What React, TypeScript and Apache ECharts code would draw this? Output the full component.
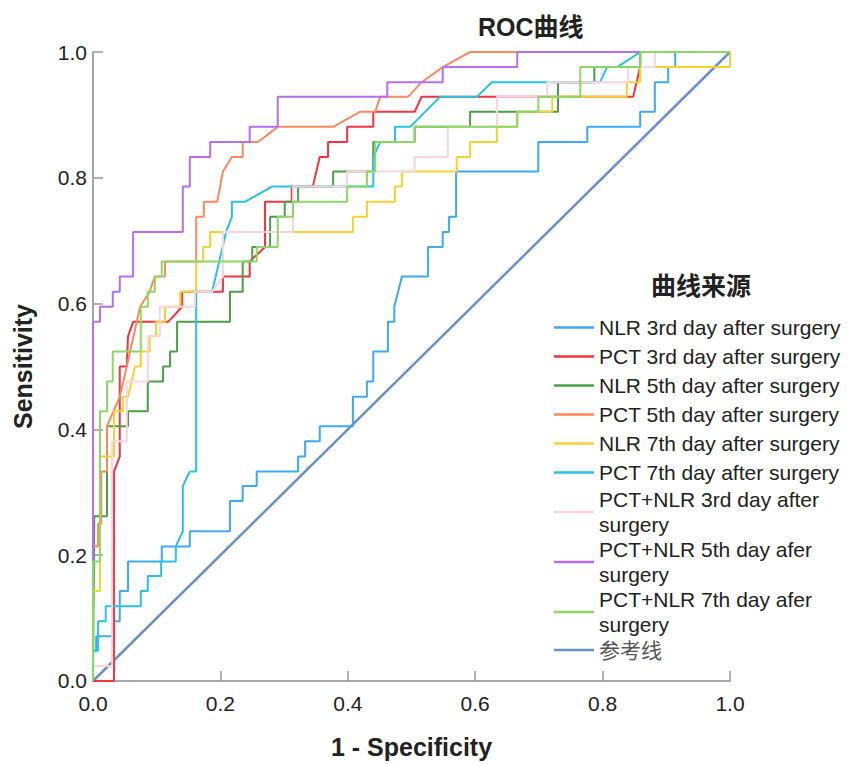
import { useEffect, useRef } from "react";
import * as echarts from "echarts";

const FONT = "'Liberation Sans', Arial, 'Noto Sans CJK SC', sans-serif";

const seriesNames = [
  "NLR 3rd day after surgery",
  "PCT 3rd day after surgery",
  "NLR 5th day after surgery",
  "PCT 5th day after surgery",
  "NLR 7th day after surgery",
  "PCT 7th day after surgery",
  "PCT+NLR 3rd day after surgery",
  "PCT+NLR 5th day afer surgery",
  "PCT+NLR 7th day afer surgery",
  "参考线",
];

const seriesColors = [
  "#3fa9f5",
  "#f2353f",
  "#4c9f48",
  "#fa8a5f",
  "#f5d234",
  "#28c2e2",
  "#fcd3de",
  "#b46ff3",
  "#8cd765",
  "#6b8fca",
];

const nlr3 = [
  [0, 0], [0, 0.048], [0.005, 0.048], [0.005, 0.071], [0.031, 0.071], [0.031, 0.095], [0.042, 0.095],
  [0.042, 0.143], [0.055, 0.143], [0.055, 0.19], [0.108, 0.19], [0.108, 0.214], [0.152, 0.214],
  [0.152, 0.238], [0.215, 0.238], [0.215, 0.286], [0.235, 0.286], [0.235, 0.31], [0.257, 0.31],
  [0.257, 0.333], [0.322, 0.333], [0.322, 0.357], [0.333, 0.357], [0.333, 0.381], [0.356, 0.381],
  [0.356, 0.405], [0.408, 0.405], [0.408, 0.452], [0.43, 0.452], [0.43, 0.476], [0.44, 0.476],
  [0.44, 0.524], [0.463, 0.524], [0.463, 0.571], [0.473, 0.571], [0.473, 0.595], [0.485, 0.643],
  [0.526, 0.643], [0.526, 0.69], [0.549, 0.69], [0.549, 0.714], [0.559, 0.714], [0.559, 0.738],
  [0.57, 0.738], [0.57, 0.81], [0.699, 0.81], [0.699, 0.857], [0.776, 0.857], [0.776, 0.881],
  [0.859, 0.881], [0.859, 0.905], [0.882, 0.905], [0.882, 0.952], [0.903, 0.952], [0.903, 0.976],
  [0.914, 0.976], [0.914, 1], [1, 1],
];

const pct3 = [
  [0, 0], [0.033, 0], [0.033, 0.333], [0.042, 0.357], [0.042, 0.5], [0.053, 0.5], [0.055, 0.548],
  [0.063, 0.571], [0.118, 0.571], [0.14, 0.595], [0.14, 0.619], [0.204, 0.619], [0.204, 0.643],
  [0.246, 0.643], [0.246, 0.667], [0.27, 0.69], [0.27, 0.762], [0.312, 0.762], [0.312, 0.786],
  [0.345, 0.786], [0.356, 0.833], [0.369, 0.833], [0.369, 0.857], [0.399, 0.857], [0.399, 0.881],
  [0.44, 0.881], [0.44, 0.905], [0.505, 0.905], [0.516, 0.929], [0.848, 0.929], [0.859, 0.976],
  [0.859, 1], [1, 1],
];

const nlr5 = [
  [0, 0], [0.002, 0.262], [0.022, 0.262], [0.022, 0.405], [0.055, 0.405], [0.055, 0.429],
  [0.086, 0.429], [0.086, 0.476], [0.11, 0.476], [0.11, 0.5], [0.121, 0.5], [0.121, 0.524],
  [0.132, 0.524], [0.132, 0.571], [0.215, 0.571], [0.215, 0.619], [0.235, 0.619], [0.235, 0.667],
  [0.25, 0.667], [0.25, 0.69], [0.278, 0.69], [0.278, 0.738], [0.301, 0.738], [0.301, 0.762],
  [0.322, 0.762], [0.322, 0.786], [0.377, 0.786], [0.377, 0.81], [0.44, 0.81], [0.44, 0.857],
  [0.505, 0.857], [0.505, 0.881], [0.592, 0.881], [0.592, 0.905], [0.73, 0.905], [0.73, 0.952],
  [0.787, 0.952], [0.787, 0.976], [0.859, 0.976], [0.859, 1], [1, 1],
];

const pct5 = [
  [0, 0], [0, 0.214], [0.008, 0.214], [0.008, 0.25], [0.013, 0.25], [0.013, 0.333], [0.022, 0.333],
  [0.022, 0.405], [0.042, 0.452], [0.053, 0.5], [0.074, 0.595], [0.089, 0.619], [0.097, 0.643],
  [0.113, 0.643], [0.113, 0.667], [0.162, 0.667], [0.162, 0.738], [0.174, 0.738], [0.174, 0.762],
  [0.195, 0.762], [0.204, 0.81], [0.218, 0.833], [0.235, 0.833], [0.235, 0.857], [0.259, 0.857],
  [0.29, 0.881], [0.377, 0.881], [0.419, 0.905], [0.443, 0.905], [0.451, 0.929], [0.495, 0.929],
  [0.516, 0.952], [0.549, 0.976], [0.592, 1], [1, 1],
];

const nlr7 = [
  [0, 0], [0, 0.143], [0.011, 0.143], [0.011, 0.357], [0.033, 0.357], [0.033, 0.429], [0.047, 0.429],
  [0.047, 0.452], [0.055, 0.452], [0.066, 0.5], [0.075, 0.5], [0.075, 0.524], [0.089, 0.524],
  [0.089, 0.548], [0.099, 0.548], [0.099, 0.571], [0.113, 0.571], [0.113, 0.595], [0.137, 0.595],
  [0.137, 0.619], [0.162, 0.619], [0.162, 0.667], [0.173, 0.667], [0.173, 0.69], [0.184, 0.69],
  [0.184, 0.714], [0.408, 0.714], [0.408, 0.738], [0.43, 0.738], [0.43, 0.762], [0.474, 0.762],
  [0.474, 0.786], [0.485, 0.786], [0.485, 0.81], [0.571, 0.81], [0.571, 0.833], [0.592, 0.833],
  [0.592, 0.857], [0.634, 0.857], [0.634, 0.881], [0.666, 0.881], [0.666, 0.905], [0.721, 0.905],
  [0.721, 0.929], [0.838, 0.929], [0.838, 0.952], [0.859, 0.952], [0.859, 0.976], [1, 0.976], [1, 1],
];

const pct7 = [
  [0, 0], [0, 0.048], [0.008, 0.048], [0.008, 0.095], [0.02, 0.095], [0.02, 0.119], [0.075, 0.119],
  [0.075, 0.143], [0.086, 0.143], [0.086, 0.167], [0.107, 0.167], [0.107, 0.19], [0.13, 0.19],
  [0.13, 0.214], [0.141, 0.238], [0.141, 0.31], [0.152, 0.333], [0.162, 0.333], [0.162, 0.619],
  [0.187, 0.619], [0.209, 0.714], [0.218, 0.738], [0.218, 0.762], [0.239, 0.762], [0.281, 0.786],
  [0.44, 0.786], [0.44, 0.833], [0.451, 0.857], [0.474, 0.857], [0.474, 0.881], [0.498, 0.881],
  [0.545, 0.929], [0.603, 0.929], [0.626, 0.952], [0.796, 0.952], [0.807, 0.976], [0.823, 0.976],
  [0.859, 1], [1, 1],
];

const combo3 = [
  [0, 0], [0, 0.024], [0.03, 0.024], [0.03, 0.381], [0.053, 0.381], [0.053, 0.476], [0.086, 0.476],
  [0.086, 0.548], [0.105, 0.548], [0.105, 0.595], [0.16, 0.595], [0.16, 0.619], [0.187, 0.619],
  [0.204, 0.643], [0.204, 0.714], [0.314, 0.714], [0.314, 0.786], [0.399, 0.786], [0.399, 0.81],
  [0.505, 0.81], [0.505, 0.833], [0.557, 0.833], [0.557, 0.881], [0.634, 0.881], [0.634, 0.929],
  [0.713, 0.929], [0.713, 0.952], [0.84, 0.952], [0.84, 0.976], [0.882, 0.976], [0.882, 1], [1, 1],
];

const combo5 = [
  [0, 0], [0, 0.571], [0.011, 0.571], [0.011, 0.595], [0.031, 0.595], [0.031, 0.619], [0.042, 0.619],
  [0.042, 0.643], [0.063, 0.643], [0.063, 0.714], [0.141, 0.714], [0.141, 0.786], [0.152, 0.786],
  [0.152, 0.833], [0.184, 0.833], [0.184, 0.857], [0.246, 0.857], [0.246, 0.881], [0.29, 0.881],
  [0.29, 0.929], [0.462, 0.929], [0.462, 0.952], [0.549, 0.952], [0.549, 0.976], [0.666, 0.976],
  [0.666, 1], [1, 1],
];

const combo7 = [
  [0, 0], [0, 0.19], [0.011, 0.19], [0.011, 0.429], [0.022, 0.429], [0.022, 0.476], [0.031, 0.476],
  [0.031, 0.524], [0.075, 0.524], [0.075, 0.595], [0.086, 0.595], [0.086, 0.619], [0.097, 0.619],
  [0.097, 0.643], [0.108, 0.643], [0.108, 0.667], [0.257, 0.667], [0.257, 0.69], [0.29, 0.69],
  [0.29, 0.738], [0.314, 0.738], [0.314, 0.762], [0.399, 0.762], [0.399, 0.786], [0.43, 0.786],
  [0.43, 0.81], [0.443, 0.81], [0.443, 0.857], [0.505, 0.857], [0.505, 0.881], [0.666, 0.881],
  [0.666, 0.905], [0.699, 0.905], [0.699, 0.929], [0.765, 0.929], [0.765, 0.976], [0.859, 0.976],
  [0.859, 1], [1, 1],
];

const referenceLine = [
  [0, 0],
  [1, 1],
];

const seriesData = [nlr3, pct3, nlr5, pct5, nlr7, pct7, combo3, combo5, combo7, referenceLine];

const wrappedNames: Record<string, string> = {
  "PCT+NLR 3rd day after surgery": "PCT+NLR 3rd day after\nsurgery",
  "PCT+NLR 5th day afer surgery": "PCT+NLR 5th day afer\nsurgery",
  "PCT+NLR 7th day afer surgery": "PCT+NLR 7th day afer\nsurgery",
};

export default function App() {
  const ref = useRef<HTMLDivElement>(null);
  useEffect(() => {
    document.body.style.margin = "0";
    const chart = echarts.init(ref.current!, null, { renderer: "svg" });
    const legendData = seriesNames.map((name) => {
      if (wrappedNames[name]) {
        return { name, textStyle: { lineHeight: 25, fontSize: 21, fontFamily: FONT, color: "#222" } };
      }
      if (name === "参考线") {
        return { name, textStyle: { lineHeight: 26, fontSize: 21, fontFamily: FONT, color: "#555" } };
      }
      return { name, textStyle: { lineHeight: 29, fontSize: 21, fontFamily: FONT, color: "#222" } };
    });
    const option: any = {
      animation: false,
      backgroundColor: "#ffffff",
      title: [
        {
          text: "ROC曲线",
          left: 478,
          top: 14,
          padding: 0,
          textStyle: { fontFamily: FONT, fontSize: 25, fontWeight: "bold", color: "#222" },
        },
        {
          text: "曲线来源",
          left: 651,
          top: 273,
          padding: 0,
          textStyle: { fontFamily: FONT, fontSize: 25, fontWeight: "bold", color: "#222" },
        },
      ],
      grid: { left: 93, right: 119, top: 52, bottom: 75, containLabel: false },
      legend: {
        orient: "vertical",
        left: 554,
        top: 313,
        padding: 0,
        itemGap: 0,
        itemWidth: 40,
        itemHeight: 2.5,
        icon: "rect",
        data: legendData,
        formatter: (name: string) => wrappedNames[name] || name,
        textStyle: { fontFamily: FONT, fontSize: 21, color: "#222" },
      },
      xAxis: {
        type: "value",
        min: 0,
        max: 1,
        interval: 0.2,
        name: "1 - Specificity",
        nameLocation: "middle",
        nameGap: 53,
        nameTextStyle: { fontFamily: FONT, fontSize: 25, fontWeight: "bold", color: "#222" },
        axisLine: { show: true, lineStyle: { color: "#8a8a8a", width: 1.5 } },
        axisTick: { show: true, inside: true, length: 10, lineStyle: { color: "#9a9a9a", width: 1.5 } },
        axisLabel: {
          margin: 12,
          fontFamily: FONT,
          fontSize: 21,
          color: "#222",
          formatter: (v: number) => v.toFixed(1),
        },
        splitLine: { show: false },
      },
      yAxis: {
        type: "value",
        min: 0,
        max: 1,
        interval: 0.2,
        name: "Sensitivity",
        nameLocation: "middle",
        nameGap: 58,
        nameTextStyle: { fontFamily: FONT, fontSize: 25, fontWeight: "bold", color: "#222" },
        axisLine: { show: true, lineStyle: { color: "#8a8a8a", width: 1.5 } },
        axisTick: { show: true, inside: true, length: 10, lineStyle: { color: "#9a9a9a", width: 1.5 } },
        axisLabel: {
          margin: 6,
          fontFamily: FONT,
          fontSize: 21,
          color: "#222",
          formatter: (v: number) => v.toFixed(1),
        },
        splitLine: { show: false },
      },
      series: seriesNames.map((name, i) => ({
        name,
        type: "line",
        data: seriesData[i],
        symbol: "none",
        showSymbol: false,
        clip: false,
        color: seriesColors[i],
        itemStyle: { color: seriesColors[i] },
        lineStyle: { color: seriesColors[i], width: name === "参考线" ? 2.5 : 2 },
        z: name === "参考线" ? 1 : 2,
      })),
    };
    chart.setOption(option);
    return () => chart.dispose();
  }, []);
  return <div ref={ref} style={{ width: 849, height: 764 }} />;
}
